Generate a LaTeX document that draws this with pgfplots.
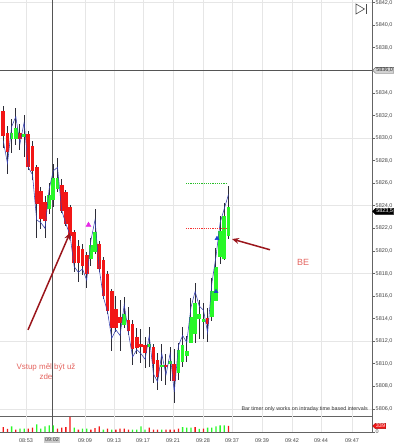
\documentclass[border=0pt]{standalone}
\usepackage{fontspec}
\setmainfont{Liberation Sans}
\usepackage{pgfplots}
\pgfplotsset{compat=1.18}
\usepackage{pgfplotstable}
\usetikzlibrary{arrows.meta,shapes.symbols}

\definecolor{cRed}{RGB}{242,22,22}
\definecolor{cGreen}{RGB}{40,248,40}
\definecolor{cWick}{RGB}{45,45,55}
\definecolor{cGrid}{RGB}{230,230,230}
\definecolor{cAxis}{RGB}{100,100,100}
\definecolor{cText}{RGB}{70,70,70}
\definecolor{cBlue}{RGB}{55,65,175}
\definecolor{cNote}{RGB}{228,100,95}
\definecolor{cArrow}{RGB}{155,22,28}
\definecolor{cCross}{RGB}{85,85,85}
\definecolor{cDotG}{RGB}{40,190,40}
\definecolor{cDotR}{RGB}{245,50,50}
\definecolor{cMag}{RGB}{230,40,230}
\definecolor{cMarkB}{RGB}{30,60,210}

\pgfplotstableread{
x o h l c b
3.30 5832.50 5833.00 5829.25 5830.25 5829.75
7.47 5830.50 5831.00 5826.75 5828.75 5827.75
11.64 5830.00 5831.75 5828.75 5830.50 5831.00
15.81 5830.00 5832.75 5829.50 5831.00 5831.90
19.98 5830.50 5831.25 5829.00 5830.00 5829.50
24.15 5830.25 5832.25 5828.50 5830.50 5831.40
28.32 5830.50 5830.75 5827.25 5827.50 5827.40
32.49 5829.50 5829.75 5826.25 5827.25 5826.75
36.66 5827.50 5827.75 5821.25 5824.25 5822.75
40.83 5825.50 5825.75 5822.00 5823.00 5822.50
45.00 5824.50 5825.00 5821.25 5822.75 5822.00
49.17 5823.75 5826.00 5823.25 5825.00 5825.50
53.34 5824.50 5827.75 5824.00 5826.50 5827.10
57.51 5825.50 5828.25 5825.25 5826.50 5827.40
61.68 5826.00 5826.50 5823.50 5823.75 5823.60
65.85 5825.25 5825.50 5822.25 5822.50 5822.40
70.02 5824.00 5824.25 5821.25 5821.50 5821.40
74.19 5821.75 5822.00 5818.25 5819.00 5818.60
78.36 5820.50 5821.00 5817.25 5819.00 5818.10
82.53 5820.25 5820.75 5818.00 5818.75 5818.40
86.70 5819.75 5820.00 5816.75 5818.00 5817.40
90.87 5819.25 5821.25 5818.75 5820.50 5820.90
95.04 5820.00 5823.75 5819.75 5821.75 5822.75
99.21 5820.75 5821.00 5818.25 5818.50 5818.40
103.38 5819.25 5819.50 5815.75 5816.00 5815.90
107.55 5818.00 5818.25 5814.50 5814.75 5814.60
111.72 5816.50 5816.75 5811.25 5813.25 5812.25
115.89 5815.00 5816.00 5812.75 5813.25 5813.00
120.06 5814.25 5815.75 5811.25 5813.75 5812.50
124.23 5813.50 5816.00 5813.25 5814.50 5815.25
128.40 5814.00 5815.00 5812.50 5813.00 5812.75
132.57 5813.50 5814.00 5810.00 5811.25 5810.60
136.74 5812.50 5813.25 5811.00 5811.50 5811.25
140.91 5811.75 5813.25 5810.25 5811.50 5810.90
145.08 5811.75 5812.50 5809.75 5811.00 5810.40
149.25 5811.50 5813.25 5809.75 5811.75 5812.50
153.42 5811.50 5811.75 5808.25 5810.00 5809.10
157.59 5810.50 5811.00 5807.75 5809.00 5808.40
161.76 5809.75 5811.75 5808.50 5810.00 5810.90
165.93 5810.00 5811.00 5808.25 5809.75 5809.00
170.10 5810.00 5811.50 5808.50 5810.25 5810.90
174.27 5810.00 5811.25 5806.50 5808.50 5807.50
178.44 5809.25 5812.00 5808.75 5811.25 5811.60
182.61 5810.25 5813.25 5809.75 5811.75 5812.50
186.78 5810.75 5812.50 5810.25 5811.25 5811.90
190.95 5812.00 5815.75 5811.75 5814.25 5815.00
195.12 5812.75 5817.25 5812.00 5815.50 5816.40
199.29 5814.00 5815.75 5812.25 5814.50 5815.10
203.46 5813.75 5815.50 5812.25 5814.00 5814.75
207.63 5814.00 5815.00 5812.00 5813.50 5812.75
211.80 5814.25 5817.75 5814.00 5816.50 5817.10
215.97 5815.75 5820.25 5815.50 5818.75 5819.50
220.14 5819.50 5823.25 5819.00 5821.75 5822.50
224.31 5819.50 5824.25 5819.25 5823.25 5823.75
228.48 5821.50 5825.75 5821.00 5824.00 5825.00
}\candles

\pgfplotstableread{
x v up
3.30 280 0
7.47 170 0
11.64 320 1
15.81 130 0
19.98 185 1
24.15 185 1
28.32 185 0
32.49 240 0
36.66 435 1
40.83 185 1
45.00 320 1
49.17 375 1
53.34 375 1
57.51 185 0
61.68 240 0
65.85 280 0
70.02 845 0
74.19 240 1
78.36 130 0
82.53 185 1
86.70 185 1
90.87 130 0
95.04 225 0
99.21 320 0
103.38 130 1
107.55 185 0
111.72 130 1
115.89 130 0
120.06 185 0
124.23 185 0
128.40 130 0
132.57 130 1
136.74 130 1
140.91 320 1
145.08 130 1
149.25 240 0
153.42 130 0
157.59 130 0
161.76 130 1
165.93 130 0
170.10 130 0
174.27 130 0
178.44 185 0
182.61 280 1
186.78 240 1
190.95 240 1
195.12 280 0
199.29 170 1
203.46 185 0
207.63 240 1
211.80 240 1
215.97 320 1
220.14 375 1
224.31 375 1
228.48 339 0
}\volumes

\newcommand{\tickfont}{\fontsize{5.5}{6.5}\selectfont}

\begin{document}
\begin{tikzpicture}[x=1bp,y=1bp]
\useasboundingbox (0bp,0bp) rectangle (400bp,446bp);
\begin{axis}[
  at={(0bp,30bp)}, anchor=south west,
  scale only axis, width=372bp, height=416bp,
  xmin=0, xmax=372, ymin=5805.37, ymax=5842.23,
  axis x line=bottom, axis y line=right,
  axis line style={-, cAxis, line width=0.8bp},
  xtick={26,85,114,143,173,203,232,262,292,321,352},
  xticklabels={},
  x tick style={draw=none},
  xmajorgrids,
  grid style={cGrid, line width=0.6bp},
  ytick={5806,5808,...,5842},
  y tick style={cAxis, line width=0.5bp},
  tick align=outside,
  major tick length=2.5bp,
  yticklabel style={font=\tickfont, text=cText, inner sep=1bp,
     /pgf/number format/.cd, fixed, fixed zerofill, precision=1, use comma, 1000 sep={}, assume math mode=true},
  extra y ticks={5806,5812,5818,5824,5830,5842},
  extra y tick labels={},
  extra y tick style={grid=major},
]
% crosshair
\draw[cCross, line width=0.8bp] (axis cs:52,5805.37) -- (axis cs:52,5842.23);
\draw[cCross, line width=0.8bp] (axis cs:0,5836) -- (axis cs:372,5836);
% wicks
\addplot[forget plot, draw=none, mark=none,
  error bars/.cd, y dir=both, y explicit, error mark=none,
  error bar style={draw=cWick, line width=1bp}]
  table[x=x, y expr={(\thisrow{h}+\thisrow{l})/2}, y error expr={(\thisrow{h}-\thisrow{l})/2}] {\candles};
% red bodies
\addplot[forget plot, draw=none, mark=none,
  restrict expr to domain={\thisrow{o}-\thisrow{c}}{0.001:100},
  error bars/.cd, y dir=both, y explicit, error mark=none,
  error bar style={draw=cRed, line width=3.7bp}]
  table[x=x, y expr={(\thisrow{o}+\thisrow{c})/2}, y error expr={abs(\thisrow{o}-\thisrow{c})/2}] {\candles};
% green bodies
\addplot[forget plot, draw=none, mark=none,
  restrict expr to domain={\thisrow{c}-\thisrow{o}}{0.001:100},
  error bars/.cd, y dir=both, y explicit, error mark=none,
  error bar style={draw=cGreen, line width=3.7bp}]
  table[x=x, y expr={(\thisrow{o}+\thisrow{c})/2}, y error expr={abs(\thisrow{o}-\thisrow{c})/2}] {\candles};
% blue line
\addplot[cBlue, line width=0.55bp, mark=none] table[x=x, y=b] {\candles};
% dotted levels
\addplot[cDotG, line width=1bp, dash pattern=on 1.2bp off 1bp] coordinates {(186,5826) (227,5826)};
\addplot[cDotR, line width=1bp, dash pattern=on 1.2bp off 1bp] coordinates {(186,5822) (227,5822)};
% markers
\addplot[only marks, mark=triangle*, mark size=2.8bp, cMag] coordinates {(88.5,5822.3)};
\addplot[only marks, mark=triangle*, mark size=2.3bp, cMarkB] coordinates {(216,5816.4) (217,5821.1)};
% arrows
\draw[cArrow, line width=1.5bp, -{Stealth[length=7bp,width=6bp]}] (axis cs:28,5813.0) -- (axis cs:70,5821.6);
\draw[cArrow, line width=1.5bp, -{Stealth[length=7bp,width=6bp]}] (axis cs:270,5820.1) -- (axis cs:232,5821.05);
% notes
\node[align=center, font=\fontsize{8}{10}\selectfont, text=cNote] at (axis cs:46,5809.28) {Vstup měl být už\\zde};
\node[font=\fontsize{9}{10}\selectfont, text=cNote] at (axis cs:303,5818.94) {BE};
\node[anchor=east, font=\fontsize{5.4}{6}\selectfont, text=black!80, inner sep=0pt] at (axis cs:368,5806.0) {Bar timer only works on intraday time based intervals};
\coordinate (tagA) at (axis cs:372,5836);
\coordinate (tagB) at (axis cs:372,5823.5);
\end{axis}

\begin{axis}[
  at={(0bp,14bp)}, anchor=south west,
  scale only axis, width=372bp, height=16bp,
  xmin=0, xmax=372, ymin=0, ymax=900,
  axis x line=bottom, axis y line=right,
  axis line style={-, cAxis, line width=0.8bp},
  xtick={26,85,114,143,173,203,232,262,292,321,352},
  xticklabels={08:53,09:09,09:13,09:17,09:21,09:28,09:37,09:39,09:42,09:44,09:47},
  x tick style={draw=none},
  xticklabel style={font=\tickfont, text=cText, inner sep=1bp, yshift=-2.5bp},
  xmajorgrids, grid style={cGrid, line width=0.6bp},
  ytick={0}, yticklabels={0},
  yticklabel style={font=\tickfont, text=cText, inner sep=1bp},
  tick align=outside, major tick length=2.5bp, y tick style={cAxis, line width=0.5bp},
  extra x ticks={52}, extra x tick labels={09:02},
  extra x tick style={grid=none, xticklabel style={fill=gray!40, inner sep=0.8bp}},
]
\draw[cCross, line width=0.8bp] (axis cs:52,0) -- (axis cs:52,900);
\addplot[ybar, bar width=1.3bp, bar shift=0pt, fill=cRed, draw=none,
  restrict expr to domain={\thisrow{up}}{-0.5:0.5}] table[x=x, y=v] {\volumes};
\addplot[ybar, bar width=1.3bp, bar shift=0pt, fill=cGreen, draw=none,
  restrict expr to domain={\thisrow{up}}{0.5:1.5}] table[x=x, y=v] {\volumes};
\coordinate (tagC) at (axis cs:372,339);
\end{axis}

\node[signal, signal to=west, fill=gray!35, draw=gray!70!black, line width=0.4bp,
  font=\tickfont, text=black!80, inner sep=0.7bp, anchor=west] at ([xshift=0.3bp]tagA) {5836,0};
\node[signal, signal to=west, fill=black, draw=black, line width=0.4bp,
  font=\tickfont, text=white, inner sep=0.7bp, anchor=west] at ([xshift=0.3bp]tagB) {5823,5};
\node[signal, signal to=west, fill=cRed, draw=cRed!70!black, line width=0.4bp,
  font=\tickfont, text=white, inner sep=0.7bp, anchor=west] at ([xshift=0.3bp]tagC) {339};

% panel icon
\draw[gray!60!black, line width=0.6bp] (356bp,442bp) -- (364.5bp,437bp) -- (356bp,432bp) -- cycle;
\draw[gray!60!black, line width=0.9bp] (366.5bp,432bp) -- (366.5bp,442bp);
\end{tikzpicture}
\end{document}
